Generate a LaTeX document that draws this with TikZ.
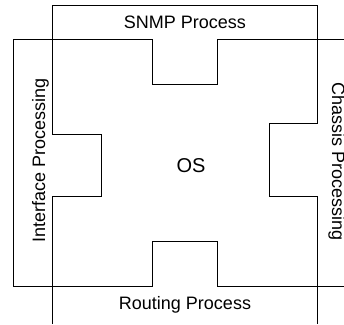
\documentclass[tikz,border=0pt]{standalone}
\usepackage{fontspec}
\setmainfont{Liberation Sans}
\begin{document}
\begin{tikzpicture}[x=1pt,y=-1pt,
  outline/.style={draw=black,line width=0.8pt,line join=miter},
  lbl/.style={inner sep=0pt,font=\fontsize{18}{20}\selectfont},
  oslbl/.style={inner sep=0pt,font=\fontsize{20}{22}\selectfont}]
\useasboundingbox (0,0) rectangle (344,324);
% vertical region (SNMP / Routing)
\draw[outline] (52,324) -- (52,196) -- (101,196) -- (101,134) -- (52,134) -- (52,5)
  -- (317,5) -- (317,123) -- (269,123) -- (269,196) -- (317,196) -- (317,324);
% horizontal region (Interface / Chassis)
\draw[outline] (344,39) -- (217,39) -- (217,84) -- (152,84) -- (152,39) -- (13,39)
  -- (13,286) -- (152,286) -- (152,241) -- (217,241) -- (217,286) -- (344,286);
\node[lbl,anchor=base] (snmp) at (185,28) {SNMP Process};
\node[lbl,anchor=base] (routing) at (185,309) {Routing Process};
\node[lbl,anchor=base,rotate=90] (iface) at (45,160) {Interface Processing};
\node[lbl,anchor=base,rotate=-90] (chassis) at (332,162) {Chassis Processing};
\node[oslbl,anchor=base] (os) at (191,172) {OS};
\end{tikzpicture}
\end{document}
